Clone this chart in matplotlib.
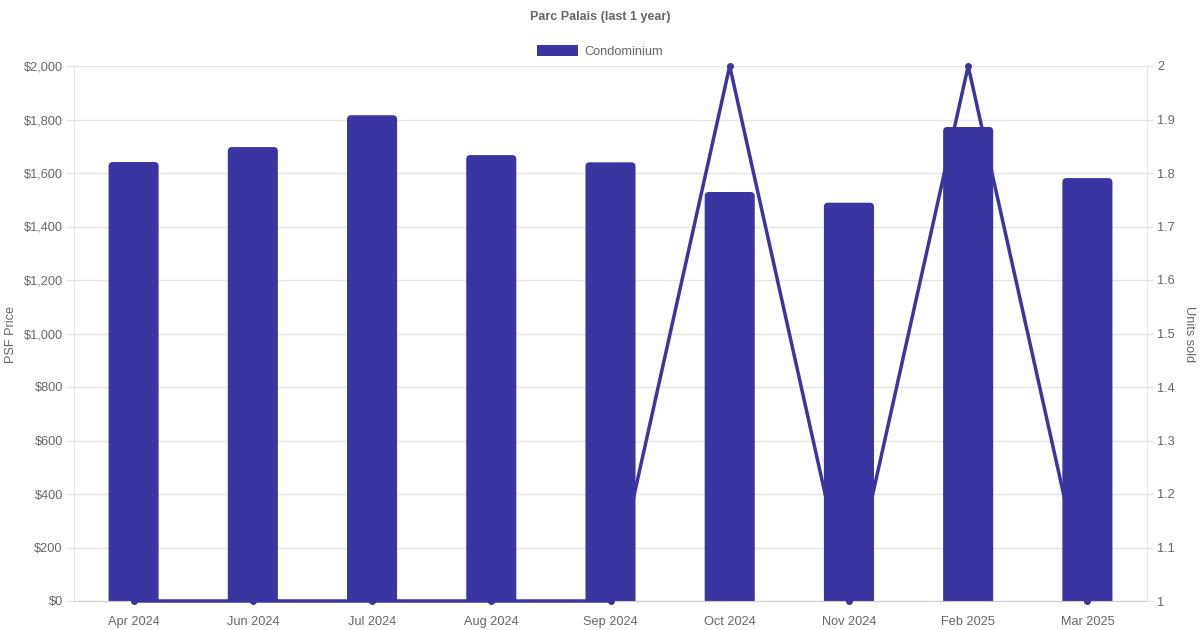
import matplotlib.pyplot as plt
from matplotlib.patches import FancyBboxPatch, Patch
from matplotlib.ticker import FuncFormatter

months = ["Apr 2024", "Jun 2024", "Jul 2024", "Aug 2024", "Sep 2024",
          "Oct 2024", "Nov 2024", "Feb 2025", "Mar 2025"]
psf_price = [1641, 1697, 1816, 1667, 1640, 1529, 1489, 1772, 1581]
units_sold = [1, 1, 1, 1, 1, 2, 1, 2, 1]

bar_color = "#3a35a0"
text_color = "#666666"
grid_color = "#e5e5e5"

plt.rcParams["font.family"] = ["Liberation Sans", "DejaVu Sans"]

fig = plt.figure(figsize=(12, 6.3), dpi=100)
ax = fig.add_axes([74 / 1200, 29 / 630, (1147 - 74) / 1200, (601 - 66) / 630])
ax2 = ax.twinx()

x = list(range(len(months)))
bars = ax.bar(x, psf_price, width=0.42, color=bar_color, zorder=2)

# swap the plain bars for ones with rounded tops
px_per_x = (1147 - 74) / len(months)
px_per_y = (601 - 66) / 2000
for b in bars:
    b.set_visible(False)
    r = FancyBboxPatch((b.get_x(), -100), b.get_width(), b.get_height() + 100,
                       boxstyle="round,pad=0,rounding_size=0.035",
                       mutation_aspect=px_per_x / px_per_y,
                       facecolor=bar_color, edgecolor="none", zorder=2)
    ax.add_patch(r)

ax2.plot(x, units_sold, color=bar_color, linewidth=2.5, marker="o", markersize=4,
         clip_on=False, zorder=3)

ax.set_xlim(-0.5, len(months) - 0.5)
ax.set_ylim(0, 2000)
ax.set_yticks(range(0, 2001, 200))
ax.yaxis.set_major_formatter(FuncFormatter(lambda v, p: f"${v:,.0f}"))
ax2.set_ylim(1, 2)
ax2.set_yticks([1 + i / 10 for i in range(11)])
ax2.yaxis.set_major_formatter(FuncFormatter(lambda v, p: f"{v:g}"))

ax.set_xticks(x)
ax.set_xticklabels(months)
ax.grid(axis="y", color=grid_color, linewidth=1, zorder=0)
ax.set_axisbelow(True)

for a in (ax, ax2):
    for s in a.spines.values():
        s.set_visible(False)
    a.tick_params(colors=text_color, labelsize=9.2, width=1)
    a.tick_params(axis="y", color=grid_color)
ax.tick_params(axis="y", length=5.8, pad=2.2)
ax2.tick_params(axis="y", length=4.3, pad=3)
ax.tick_params(axis="x", length=0, pad=11)
ax2.tick_params(axis="x", length=0)
ax.spines["left"].set_visible(True)
ax.spines["left"].set_color(grid_color)
ax.spines["bottom"].set_visible(True)
ax.spines["bottom"].set_color("#cccccc")
ax2.spines["right"].set_visible(True)
ax2.spines["right"].set_color(grid_color)

fig.text(11 / 1200, 1 - 334 / 630, "PSF Price", rotation=90, ha="center", va="center",
         color=text_color, fontsize=9.2)
fig.text(1189 / 1200, 1 - 334 / 630, "Units sold", rotation=270, ha="center", va="center",
         color=text_color, fontsize=9.2)

fig.text(0.5, 1 - 17 / 630, "Parc Palais (last 1 year)", ha="center", va="center",
         fontsize=9, fontweight="bold", color=text_color)
fig.legend(handles=[Patch(facecolor=bar_color, label="Condominium")],
           loc="upper center", bbox_to_anchor=(0.5, 1 - 40 / 630), frameon=False,
           handlelength=3.2, handleheight=0.9, handletextpad=0.55, fontsize=9.2,
           labelcolor=text_color, borderaxespad=0)

fig.savefig("out.png", dpi=100)
